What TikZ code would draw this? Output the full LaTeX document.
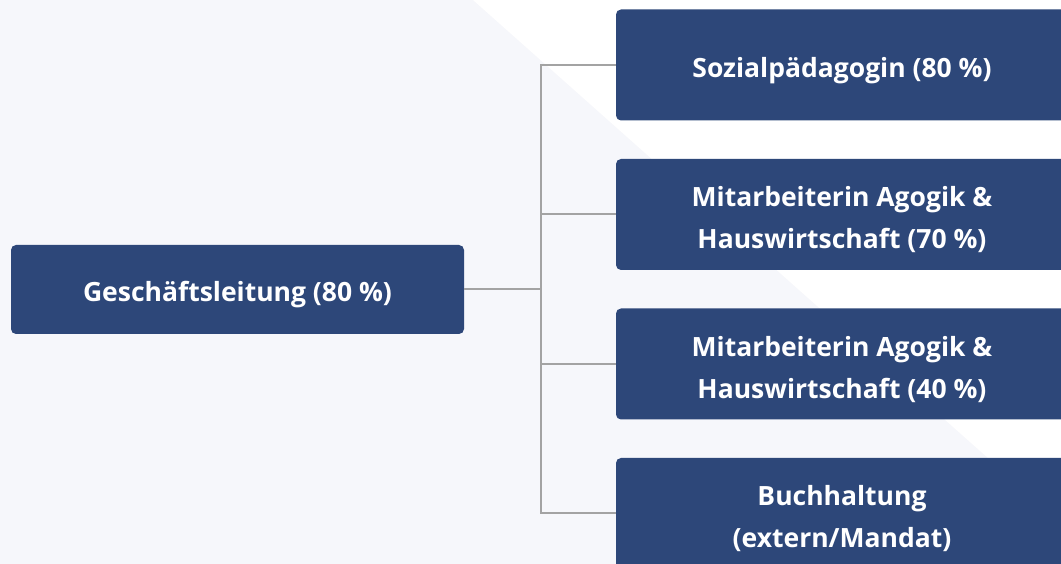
\documentclass[tikz,border=0pt]{standalone}
\usepackage{fontspec}
\setmainfont{Open Sans}
\definecolor{boxblue}{RGB}{45,71,121}
\definecolor{pale}{RGB}{246,247,251}
\definecolor{linegray}{RGB}{163,163,163}
\newcommand\boxstrut{\rule{0pt}{31pt}}
\begin{document}
\begin{tikzpicture}[x=1pt,y=1pt,
			unit box/.style={fill=boxblue,text=white,rounded corners=5pt,align=center,
				font=\fontsize{26.5}{42}\selectfont\bfseries,inner sep=0pt},
			lead box/.style={unit box,minimum width=453pt,minimum height=89pt},
			staff box/.style={unit box,minimum width=452pt,minimum height=111pt},
			link/.style={draw=linegray,line width=2pt},
			node distance=149.5pt]
			\clip (0,0) rectangle (1061,564);
			\fill[pale] (0,0) rectangle (1061,564);
			\fill[white] (473,564) -- (1061,564) -- (1061,41) -- cycle;
			\node[lead box] (lead) at (237.5,274.5) {\boxstrut Geschäftsleitung (80 \%)};
			\node[staff box] (s1) at (842,499) {\boxstrut Sozialpädagogin (80 \%)};
			\node[staff box] (s2) [below of=s1] {\boxstrut Mitarbeiterin Agogik \&\\Hauswirtschaft (70 \%)};
			\node[staff box] (s3) [below of=s2] {\boxstrut Mitarbeiterin Agogik \&\\Hauswirtschaft (40 \%)};
			\node[staff box] (s4) [below of=s3] {\boxstrut Buchhaltung\\(extern/Mandat)};
			\coordinate (fork) at (541,274.5);
			\path[link] (lead) -- (fork);
			\foreach \n in {1,...,4}
				\path[link] (fork) |- (s\n.west);
		\end{tikzpicture}
\end{document}
